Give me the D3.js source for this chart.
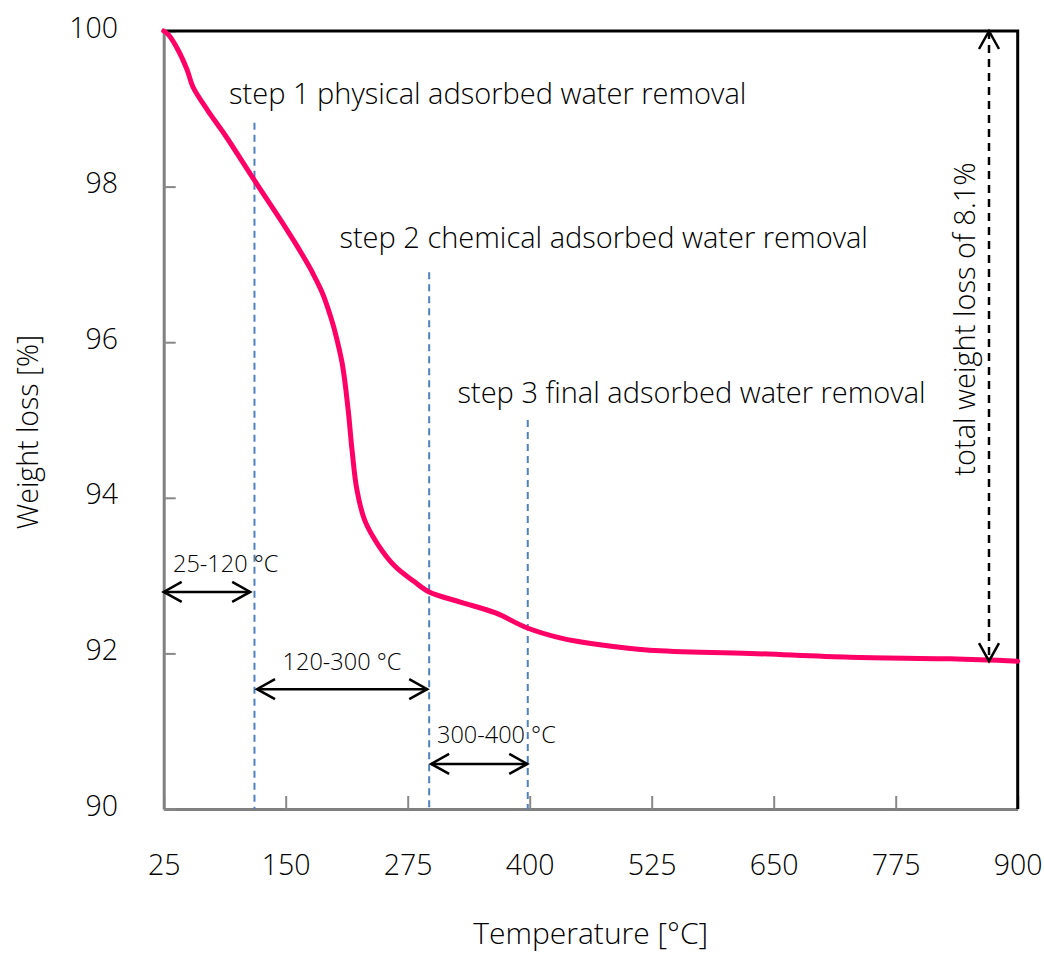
<!DOCTYPE html>
<html>
<head>
<meta charset="utf-8">
<script src="https://cdn.jsdelivr.net/npm/d3@7"></script>
<style>
  html, body { margin: 0; padding: 0; background: #fff; }
  svg { display: block; font-family: "Open Sans", "Noto Sans", sans-serif; font-weight: 350; }
</style>
</head>
<body>
<svg id="chart" width="1044" height="953"></svg>
<script>
// TGA curve: temperature (°C) and remaining weight (%)
const temperature = [25, 30, 40, 49, 55, 70, 88, 118, 149, 160, 170, 178, 188, 197, 200, 208, 214, 218, 223, 231, 245, 262, 282, 297, 329, 365, 397, 431, 472, 523, 626, 728, 831, 900];
const weight      = [100, 99.95, 99.75, 99.5, 99.28, 98.98, 98.66, 98.08, 97.49, 97.27, 97.06, 96.88, 96.62, 96.29, 96.16, 95.72, 95.13, 94.61, 94.1, 93.71, 93.39, 93.12, 92.92, 92.79, 92.66, 92.52, 92.33, 92.2, 92.11, 92.04, 92.0, 91.95, 91.93, 91.9];

// Axis ticks
const xTicks = [25, 150, 275, 400, 525, 650, 775, 900];
const yTicks = [90, 92, 94, 96, 98, 100];

// Step boundaries (°C) and their labels
const stepTemps  = [118, 297, 398];
const stepTops   = [98.82, 96.9, 95.0];
const stepLabels = ["step 1 physical adsorbed water removal",
                    "step 2 chemical adsorbed water removal",
                    "step 3 final adsorbed water removal"];

// Temperature ranges marked by double arrows
const rangeStart  = [25, 120.6, 299];
const rangeEnd    = [113.6, 295, 397.5];
const rangeLevel  = [92.79, 91.54, 90.58];
const rangeLabels = ["25-120 °C", "120-300 °C", "300-400 °C"];

// Overall loss annotation
const totalLossTemp = 870.6;
const totalLoss = 8.1;
const totalLabel = "total weight loss of 8.1%";

const svg = d3.select("#chart");
const plotL = 163.7, plotR = 1017.7, plotT = 31, plotB = 809;
const ink = "#000";

const x = d3.scaleLinear().domain([25, 900]).range([plotL, plotR]);
const y = d3.scaleLinear().domain([90, 100]).range([plotB, plotT]);

// arrow head
const defs = svg.append("defs");
defs.append("marker")
  .attr("id", "chev")
  .attr("markerUnits", "userSpaceOnUse")
  .attr("viewBox", "-22 -12 26 24")
  .attr("markerWidth", 26).attr("markerHeight", 24)
  .attr("refX", 0).attr("refY", 0)
  .attr("orient", "auto-start-reverse")
  .append("path")
  .attr("d", "M-18,-10 L0,0 L-18,10")
  .attr("fill", "none").attr("stroke", "#000")
  .attr("stroke-width", 2.5).attr("stroke-dasharray", "none");

// axes
const gx = svg.append("g").attr("transform", `translate(0,${plotB})`)
  .call(d3.axisBottom(x).tickValues(xTicks).tickSizeInner(-13).tickSizeOuter(0).tickFormat(d3.format("d")));
gx.selectAll(".tick line").attr("stroke", "#888").attr("stroke-width", 2);
gx.selectAll(".tick text").attr("y", 66).attr("dy", 0)
  .attr("font-size", 28.5).attr("fill", ink);

const gy = svg.append("g").attr("transform", `translate(${plotL},0)`)
  .call(d3.axisLeft(y).tickValues(yTicks).tickSizeInner(-12).tickSizeOuter(0).tickFormat(d3.format("d")));
gy.selectAll(".tick line").attr("stroke", "#888").attr("stroke-width", 2);
gy.selectAll(".tick text").attr("x", -45.7).attr("dy", 6)
  .attr("font-size", 28.5).attr("fill", ink);
gx.attr("font-family", null).attr("font-size", null);
gy.attr("font-family", null).attr("font-size", null);

[gx, gy].forEach(g => g.select(".domain").attr("stroke", "#808080").attr("stroke-width", 3));

// top and right frame
svg.append("path")
  .attr("d", `M${plotL},${plotT}H${plotR}V${plotB}`)
  .attr("fill", "none").attr("stroke", "#000").attr("stroke-width", 3);

// step boundary lines
svg.append("g").selectAll("line").data(stepTemps).join("line")
  .attr("x1", d => x(d)).attr("x2", d => x(d))
  .attr("y1", (d, i) => y(stepTops[i])).attr("y2", y(90))
  .attr("stroke", "#4F81BD").attr("stroke-width", 2).attr("stroke-dasharray", "7,5");

// weight curve
const line = d3.line().x((d, i) => x(temperature[i])).y(d => y(d)).curve(d3.curveCatmullRom.alpha(0.5));
svg.append("path").datum(weight)
  .attr("d", line)
  .attr("fill", "none").attr("stroke", "#FF0066").attr("stroke-width", 5)
  .attr("stroke-linejoin", "round").attr("stroke-linecap", "round");

// step labels
const stepLabelT = [92, 205, 326];
const stepLabelW = [99.06, 97.21, 95.22];
svg.append("g").selectAll("text").data(stepLabels).join("text")
  .attr("x", (d, i) => x(stepLabelT[i])).attr("y", (d, i) => y(stepLabelW[i]))
  .attr("font-size", 29).attr("fill", ink).text(d => d);

// range arrows
svg.append("g").selectAll("line").data(rangeStart).join("line")
  .attr("x1", d => x(d)).attr("x2", (d, i) => x(rangeEnd[i]))
  .attr("y1", (d, i) => y(rangeLevel[i])).attr("y2", (d, i) => y(rangeLevel[i]))
  .attr("stroke", "#000").attr("stroke-width", 2.5)
  .attr("marker-start", "url(#chev)").attr("marker-end", "url(#chev)");

const rangeLabelT = [34.5, 146.8, 305];
const rangeLabelW = [93.05, 91.79, 90.85];
svg.append("g").selectAll("text").data(rangeLabels).join("text")
  .attr("x", (d, i) => x(rangeLabelT[i])).attr("y", (d, i) => y(rangeLabelW[i]))
  .attr("font-size", 23.5).attr("fill", ink).text(d => d);

// total loss arrow
svg.append("line")
  .attr("x1", x(totalLossTemp)).attr("x2", x(totalLossTemp))
  .attr("y1", y(100)).attr("y2", y(100 - totalLoss))
  .attr("stroke", "#000").attr("stroke-width", 2.5).attr("stroke-dasharray", "8,6")
  .attr("marker-start", "url(#chev)").attr("marker-end", "url(#chev)");

svg.append("text")
  .attr("transform", `translate(975,${319}) rotate(-90)`)
  .attr("text-anchor", "middle").attr("font-size", 29).attr("fill", ink)
  .text(totalLabel);

// axis titles
svg.append("text")
  .attr("x", (plotL + plotR) / 2).attr("y", 944)
  .attr("text-anchor", "middle").attr("font-size", 30).attr("fill", ink)
  .text("Temperature [°C]");

svg.append("text")
  .attr("transform", `translate(38,${432}) rotate(-90)`)
  .attr("text-anchor", "middle").attr("font-size", 28.5).attr("fill", ink)
  .text("Weight loss [%]");
</script>
</body>
</html>
